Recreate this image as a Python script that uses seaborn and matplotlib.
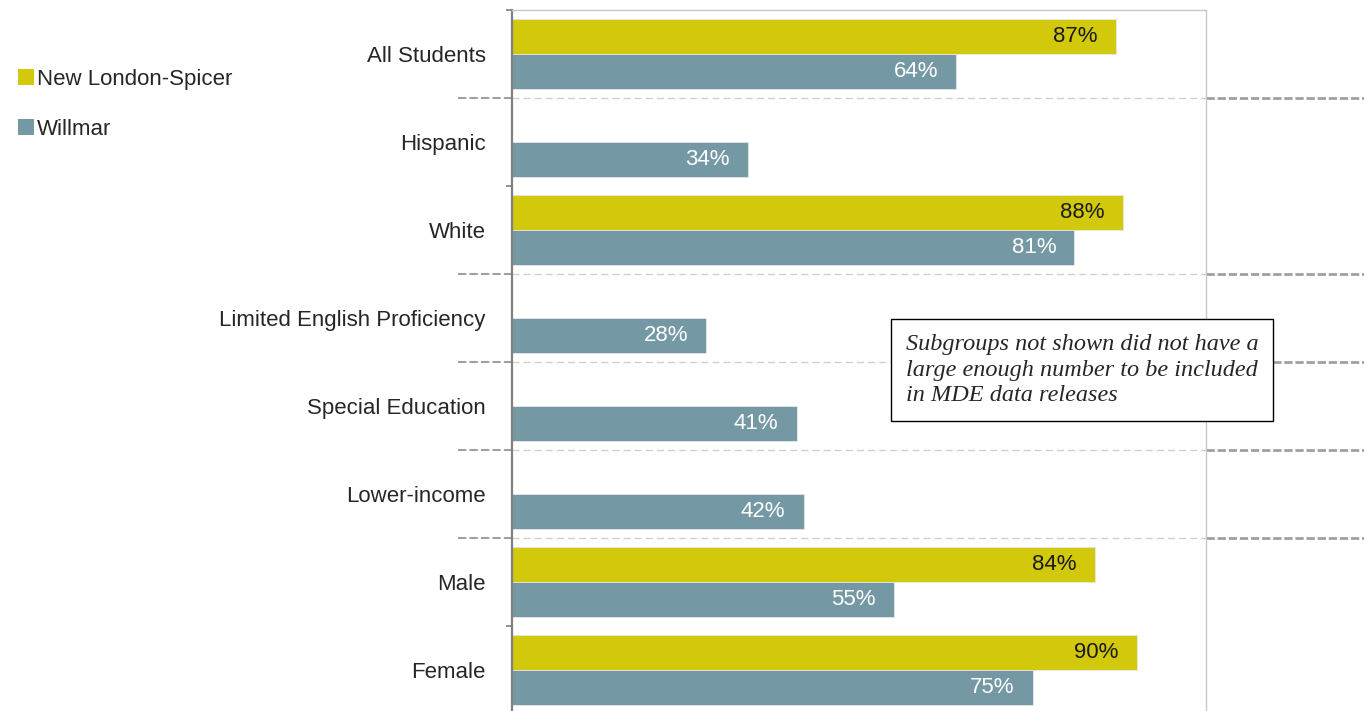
import numpy as np
import pandas as pd
import matplotlib
matplotlib.use('Agg')
import matplotlib.pyplot as plt
import seaborn as sns
from matplotlib.patches import Patch

# data
groups = ['All Students', 'Hispanic', 'White', 'Limited English Proficiency',
          'Special Education', 'Lower-income', 'Male', 'Female']
new_london = [87, np.nan, 88, np.nan, np.nan, np.nan, 84, 90]
willmar = [64, 34, 81, 28, 41, 42, 55, 75]
districts = ['New London-Spicer', 'Willmar']
# separators drawn between these groups (index of group above the line)
sep_after = [0, 2, 3, 4, 5]
note = ('Subgroups not shown did not have a\n'
        'large enough number to be included\n'
        'in MDE data releases')

colors = ['#D2C80C', '#7499A4']
label_colors = ['#1a1a1a', 'white']

df = pd.DataFrame({
    'group': groups * 2,
    'district': [districts[0]] * len(groups) + [districts[1]] * len(groups),
    'value': new_london + willmar,
})

sns.set_style('white')
plt.rcParams['font.family'] = ['Liberation Sans', 'DejaVu Sans']

fig = plt.figure(figsize=(13.64, 7.11), dpi=100)
ax = fig.add_axes([0.3754, -0.0042, 0.5088, 0.990])

sns.barplot(data=df, y='group', x='value', hue='district', order=groups,
            hue_order=districts, palette=colors, orient='h', width=0.8,
            saturation=1, edgecolor='#e8e8e8', linewidth=0.6, legend=False, ax=ax)

ax.set_xlim(0, 100)
ax.set_ylim(len(groups) - 0.5, -0.5)
ax.set_xlabel('')
ax.set_ylabel('')
ax.set_xticks([])

# value labels inside bar ends
for i, vals in enumerate([new_london, willmar]):
    for j, v in enumerate(vals):
        if np.isnan(v):
            continue
        y = j - 0.2 + 0.4 * i
        ax.text(v - 2.6, y, f'{v:.0f}%', ha='right', va='center',
                fontsize=16, color=label_colors[i])

# tick labels at centres, small ticks at category boundaries
ax.set_yticks(range(len(groups)))
ax.set_yticklabels(groups, fontsize=16, color='#262626')
ax.tick_params(axis='y', which='major', length=0, pad=19)
ax.set_yticks(np.arange(-0.5, len(groups), 1), minor=True)
ax.tick_params(axis='y', which='minor', length=4.5, width=1.2, color='#808080', left=True)

for side in ['top', 'right']:
    ax.spines[side].set_color('#c8c8c8')
    ax.spines[side].set_linewidth(1)
ax.spines['left'].set_color('#808080')
ax.spines['left'].set_linewidth(1.6)
ax.spines['bottom'].set_visible(False)

# dashed separators running past the plot area
for k in sep_after:
    y = k + 0.5
    ax.plot([-7.8, 0], [y, y], color='#a0a0a0', lw=1.5, ls=(0, (4, 1.5)), clip_on=False)
    ax.plot([0, 100], [y, y], color='#cfcfcf', lw=1, ls=(0, (5, 3)), clip_on=False)
    ax.plot([100, 123], [y, y], color='#a0a0a0', lw=2, ls=(0, (3, 1)), clip_on=False)

# legend on the far left
handles = [Patch(facecolor=c, edgecolor='none') for c in colors]
fig.legend(handles, districts, loc='upper left', bbox_to_anchor=(0.0132, 0.903),
           frameon=False, fontsize=16, handlelength=0.7, handleheight=0.7,
           handletextpad=0.15, labelspacing=1.3, labelcolor='#262626',
           borderpad=0, borderaxespad=0)

# note box
fig.text(0.6642, 0.4796, note, fontsize=17.5, style='italic', family='Liberation Serif',
         linespacing=1.3, va='center', ha='left',
         bbox=dict(boxstyle='square,pad=0.6', facecolor='white', edgecolor='black', lw=1))

fig.savefig('out.png', dpi=100)
